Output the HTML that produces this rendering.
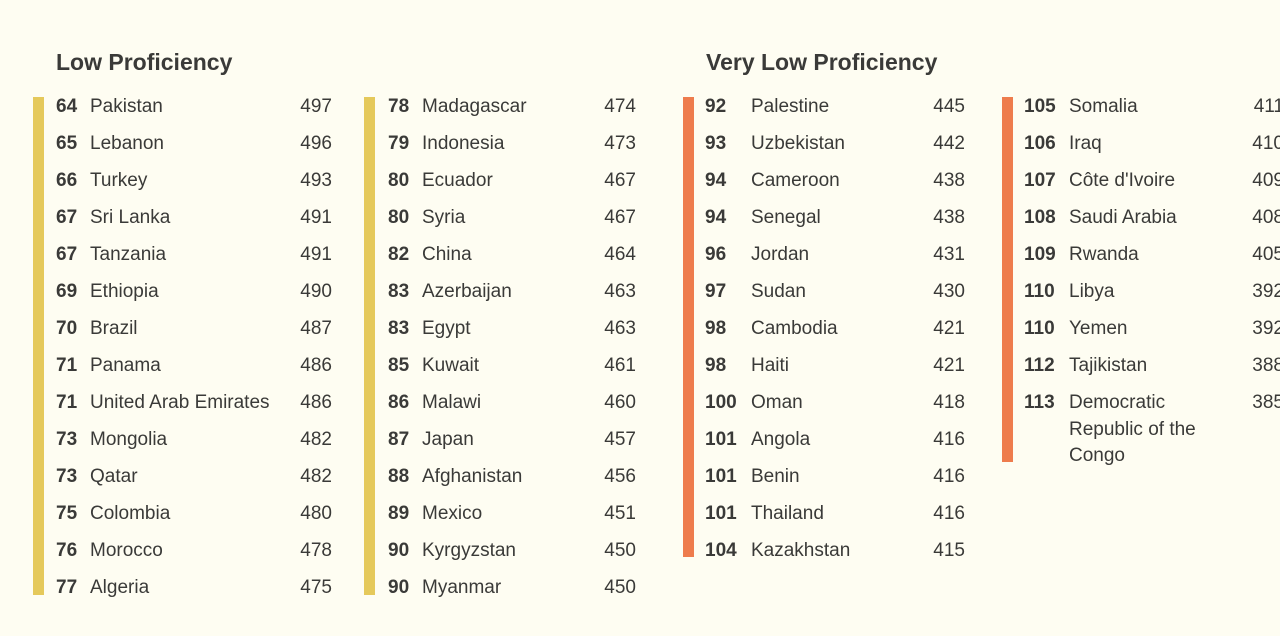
<!DOCTYPE html>
<html><head><meta charset="utf-8"><style>
body{margin:0;width:1280px;height:636px;background:#fefdf2;overflow:hidden;position:relative;font-family:"Liberation Sans",sans-serif;color:#3a3a38}
.t{position:absolute;top:49px;font-size:23px;font-weight:bold;color:#3a3a38}
.bar{position:absolute;width:11px;top:97px}
.col{position:absolute;top:95px}
.r{position:relative;height:37px;font-size:19px;line-height:24px}
.r b{position:absolute;left:0;top:0;font-weight:bold}
.r span{position:absolute;top:0}
.r i{position:absolute;top:0;font-style:normal;text-align:right}
</style></head><body>
<div class="t" style="left:56px">Low Proficiency</div>
<div class="t" style="left:706px">Very Low Proficiency</div>
<div class="bar" style="left:33px;height:498px;background:#e5c95b"></div>
<div class="bar" style="left:364px;height:498px;background:#e5c95b"></div>
<div class="bar" style="left:683px;height:460px;background:#ee7c4d"></div>
<div class="bar" style="left:1002px;height:365px;background:#ee7c4d"></div>

<div class="col" style="left:56px;width:276px">
<div class="r"><b>64</b><span style="left:34px">Pakistan</span><i style="right:0">497</i></div>
<div class="r"><b>65</b><span style="left:34px">Lebanon</span><i style="right:0">496</i></div>
<div class="r"><b>66</b><span style="left:34px">Turkey</span><i style="right:0">493</i></div>
<div class="r"><b>67</b><span style="left:34px">Sri Lanka</span><i style="right:0">491</i></div>
<div class="r"><b>67</b><span style="left:34px">Tanzania</span><i style="right:0">491</i></div>
<div class="r"><b>69</b><span style="left:34px">Ethiopia</span><i style="right:0">490</i></div>
<div class="r"><b>70</b><span style="left:34px">Brazil</span><i style="right:0">487</i></div>
<div class="r"><b>71</b><span style="left:34px">Panama</span><i style="right:0">486</i></div>
<div class="r"><b>71</b><span style="left:34px">United Arab Emirates</span><i style="right:0">486</i></div>
<div class="r"><b>73</b><span style="left:34px">Mongolia</span><i style="right:0">482</i></div>
<div class="r"><b>73</b><span style="left:34px">Qatar</span><i style="right:0">482</i></div>
<div class="r"><b>75</b><span style="left:34px">Colombia</span><i style="right:0">480</i></div>
<div class="r"><b>76</b><span style="left:34px">Morocco</span><i style="right:0">478</i></div>
<div class="r"><b>77</b><span style="left:34px">Algeria</span><i style="right:0">475</i></div>
</div>

<div class="col" style="left:388px;width:248px">
<div class="r"><b>78</b><span style="left:34px">Madagascar</span><i style="right:0">474</i></div>
<div class="r"><b>79</b><span style="left:34px">Indonesia</span><i style="right:0">473</i></div>
<div class="r"><b>80</b><span style="left:34px">Ecuador</span><i style="right:0">467</i></div>
<div class="r"><b>80</b><span style="left:34px">Syria</span><i style="right:0">467</i></div>
<div class="r"><b>82</b><span style="left:34px">China</span><i style="right:0">464</i></div>
<div class="r"><b>83</b><span style="left:34px">Azerbaijan</span><i style="right:0">463</i></div>
<div class="r"><b>83</b><span style="left:34px">Egypt</span><i style="right:0">463</i></div>
<div class="r"><b>85</b><span style="left:34px">Kuwait</span><i style="right:0">461</i></div>
<div class="r"><b>86</b><span style="left:34px">Malawi</span><i style="right:0">460</i></div>
<div class="r"><b>87</b><span style="left:34px">Japan</span><i style="right:0">457</i></div>
<div class="r"><b>88</b><span style="left:34px">Afghanistan</span><i style="right:0">456</i></div>
<div class="r"><b>89</b><span style="left:34px">Mexico</span><i style="right:0">451</i></div>
<div class="r"><b>90</b><span style="left:34px">Kyrgyzstan</span><i style="right:0">450</i></div>
<div class="r"><b>90</b><span style="left:34px">Myanmar</span><i style="right:0">450</i></div>
</div>

<div class="col" style="left:705px;width:260px">
<div class="r"><b>92</b><span style="left:46px">Palestine</span><i style="right:0">445</i></div>
<div class="r"><b>93</b><span style="left:46px">Uzbekistan</span><i style="right:0">442</i></div>
<div class="r"><b>94</b><span style="left:46px">Cameroon</span><i style="right:0">438</i></div>
<div class="r"><b>94</b><span style="left:46px">Senegal</span><i style="right:0">438</i></div>
<div class="r"><b>96</b><span style="left:46px">Jordan</span><i style="right:0">431</i></div>
<div class="r"><b>97</b><span style="left:46px">Sudan</span><i style="right:0">430</i></div>
<div class="r"><b>98</b><span style="left:46px">Cambodia</span><i style="right:0">421</i></div>
<div class="r"><b>98</b><span style="left:46px">Haiti</span><i style="right:0">421</i></div>
<div class="r"><b>100</b><span style="left:46px">Oman</span><i style="right:0">418</i></div>
<div class="r"><b>101</b><span style="left:46px">Angola</span><i style="right:0">416</i></div>
<div class="r"><b>101</b><span style="left:46px">Benin</span><i style="right:0">416</i></div>
<div class="r"><b>101</b><span style="left:46px">Thailand</span><i style="right:0">416</i></div>
<div class="r"><b>104</b><span style="left:46px">Kazakhstan</span><i style="right:0">415</i></div>
</div>

<div class="col" style="left:1024px;width:260px">
<div class="r"><b>105</b><span style="left:45px">Somalia</span><i style="right:0">411</i></div>
<div class="r"><b>106</b><span style="left:45px">Iraq</span><i style="right:0">410</i></div>
<div class="r"><b>107</b><span style="left:45px">Côte d'Ivoire</span><i style="right:0">409</i></div>
<div class="r"><b>108</b><span style="left:45px">Saudi Arabia</span><i style="right:0">408</i></div>
<div class="r"><b>109</b><span style="left:45px">Rwanda</span><i style="right:0">405</i></div>
<div class="r"><b>110</b><span style="left:45px">Libya</span><i style="right:0">392</i></div>
<div class="r"><b>110</b><span style="left:45px">Yemen</span><i style="right:0">392</i></div>
<div class="r"><b>112</b><span style="left:45px">Tajikistan</span><i style="right:0">388</i></div>
<div class="r" style="line-height:26.5px;top:-1px"><b>113</b><span style="left:45px">Democratic<br>Republic of the<br>Congo</span><i style="right:0">385</i></div>
</div>
</body></html>
